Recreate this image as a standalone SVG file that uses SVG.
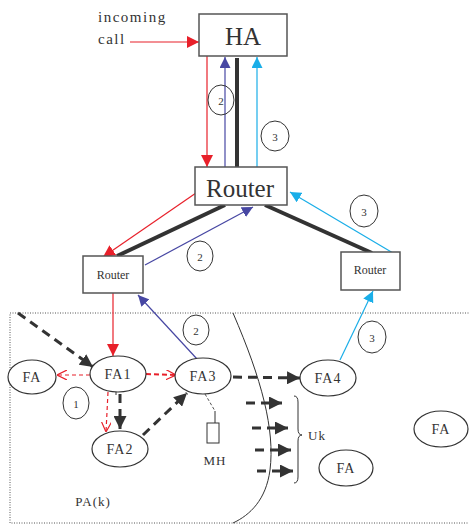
<svg xmlns="http://www.w3.org/2000/svg" width="469" height="524" viewBox="0 0 469 524">
<defs>
<marker id="mRed" viewBox="0 0 10 10" refX="10" refY="5" markerWidth="10" markerHeight="10" markerUnits="userSpaceOnUse" orient="auto"><path d="M0,0 L10,5 L0,10 z" fill="#e8202a"/></marker>
<marker id="mRedBig" viewBox="0 0 10 10" refX="10" refY="5" markerWidth="12" markerHeight="12" markerUnits="userSpaceOnUse" orient="auto"><path d="M0,0 L10,5 L0,10 z" fill="#e8202a"/></marker>
<marker id="mBlue" viewBox="0 0 10 10" refX="10" refY="5" markerWidth="11" markerHeight="11" markerUnits="userSpaceOnUse" orient="auto"><path d="M0,0 L10,5 L0,10 z" fill="#4747a3"/></marker>
<marker id="mCyan" viewBox="0 0 10 10" refX="10" refY="5" markerWidth="11" markerHeight="11" markerUnits="userSpaceOnUse" orient="auto"><path d="M0,0 L10,5 L0,10 z" fill="#1aaee8"/></marker>
<marker id="mBlack" viewBox="0 0 10 10" refX="10" refY="5" markerWidth="13" markerHeight="13" markerUnits="userSpaceOnUse" orient="auto"><path d="M0,0 L10,5 L0,10 z" fill="#333"/></marker>
<marker id="mOpen" viewBox="0 0 10 10" refX="10" refY="5" markerWidth="10" markerHeight="10" markerUnits="userSpaceOnUse" orient="auto"><path d="M0,0 L10,5 L0,10" fill="none" stroke="#e8202a" stroke-width="1.2"/></marker>
</defs>
<style>
text{font-family:"Liberation Serif","Times New Roman",serif;fill:#333}
.box{fill:#fff;stroke:#555;stroke-width:1.5}
.ell{fill:#fff;stroke:#333;stroke-width:1.2}
.num{fill:none;stroke:#333;stroke-width:1}
.lbl{font-size:14px;text-anchor:middle;letter-spacing:1px}
.n{font-size:11px;text-anchor:middle}
.red{stroke:#e8202a;stroke-width:1.2;fill:none}
.blue{stroke:#4747a3;stroke-width:1.2;fill:none}
.cyan{stroke:#1aaee8;stroke-width:1.2;fill:none}
.thick{stroke:#333;stroke-width:4;fill:none}
.bdash{stroke:#333;stroke-width:3;stroke-dasharray:9,6;fill:none}
.rdash{stroke:#e8202a;stroke-width:1.2;stroke-dasharray:4,3;fill:none}
</style>
<rect x="10" y="313" width="470" height="210" fill="none" stroke="#555" stroke-width="1" stroke-dasharray="1,1.5"/>
<path d="M233,313 C262,380 275,430 270,470 C266,500 250,515 233,523" fill="none" stroke="#333" stroke-width="1"/>
<g id="connectors">
<line x1="130" y1="42" x2="199" y2="42" class="red" marker-end="url(#mRedBig)"/>
<line x1="207" y1="56" x2="207" y2="167" class="red" marker-end="url(#mRedBig)"/>
<line x1="225" y1="167" x2="225" y2="57" class="blue" marker-end="url(#mBlue)"/>
<line x1="237" y1="58" x2="237" y2="167" class="thick"/>
<line x1="257" y1="167" x2="257" y2="57" class="cyan" marker-end="url(#mCyan)"/>
<line x1="196" y1="193" x2="103" y2="257" class="red" marker-end="url(#mRedBig)"/>
<line x1="225" y1="205" x2="117" y2="256" class="thick"/>
<line x1="145" y1="265" x2="253" y2="207" class="blue" marker-end="url(#mBlue)"/>
<line x1="265" y1="205" x2="372" y2="253" class="thick"/>
<line x1="393" y1="253" x2="290" y2="192" class="cyan" marker-end="url(#mCyan)"/>
<line x1="113" y1="293" x2="113" y2="356" class="red" marker-end="url(#mRedBig)"/>
<line x1="197" y1="359" x2="138" y2="295" class="blue" marker-end="url(#mBlue)"/>
<line x1="340" y1="360" x2="373" y2="291" class="cyan" marker-end="url(#mCyan)"/>
<line x1="18" y1="313" x2="93" y2="367" class="bdash" marker-end="url(#mBlack)"/>
<line x1="90" y1="375" x2="57" y2="375" class="rdash" marker-end="url(#mOpen)"/>
<line x1="146" y1="374" x2="176" y2="375" class="rdash" style="stroke-width:2;stroke-dasharray:5,3" marker-end="url(#mOpen)"/>
<line x1="108" y1="392" x2="106" y2="432" class="rdash" marker-end="url(#mOpen)"/>
<line x1="116" y1="389" x2="116" y2="395" stroke="#333" stroke-width="1"/>
<line x1="120" y1="394" x2="120" y2="429" class="bdash" marker-end="url(#mBlack)"/>
<line x1="143" y1="435" x2="187" y2="393" class="bdash" marker-end="url(#mBlack)"/>
<line x1="233" y1="377" x2="300" y2="378" class="bdash" marker-end="url(#mBlack)"/>
<line x1="246" y1="403" x2="282" y2="403" class="bdash" marker-end="url(#mBlack)"/>
<line x1="252" y1="428" x2="288" y2="428" class="bdash" marker-end="url(#mBlack)"/>
<line x1="255" y1="450" x2="291" y2="450" class="bdash" marker-end="url(#mBlack)"/>
<line x1="257" y1="471" x2="293" y2="471" class="bdash" marker-end="url(#mBlack)"/>
<path d="M205,394 L215,411 " fill="none" stroke="#555" stroke-width="1" stroke-dasharray="3,2"/>
<line x1="215" y1="411" x2="215" y2="423" stroke="#333" stroke-width="1"/>
</g>
<text x="98" y="22" style="font-size:15px;letter-spacing:1.5px">incoming</text>
<text x="98" y="44" style="font-size:15px;letter-spacing:1.5px">call</text>
<g id="HA"><rect x="199" y="14" width="88" height="42" class="box"/><text x="243" y="45" style="font-size:25px;text-anchor:middle">HA</text></g>
<g id="RouterMain"><rect x="195" y="167" width="92" height="38" class="box"/><text x="240" y="197" style="font-size:25px;text-anchor:middle">Router</text></g>
<g id="RouterLeft"><rect x="83" y="256" width="60" height="37" class="box"/><text x="113" y="279" style="font-size:12px;text-anchor:middle">Router</text></g>
<g id="RouterRight"><rect x="341" y="252" width="59" height="38" class="box"/><text x="370" y="274" style="font-size:12px;text-anchor:middle">Router</text></g>
<g id="c2a"><ellipse cx="221" cy="100" rx="13" ry="15" class="num"/><text x="221" y="105" class="n">2</text></g>
<g id="c3a"><ellipse cx="275" cy="136" rx="14" ry="15" class="num"/><text x="275" y="141" class="n">3</text></g>
<g id="c2b"><ellipse cx="200" cy="256" rx="13" ry="15" class="num"/><text x="200" y="261" class="n">2</text></g>
<g id="c3b"><ellipse cx="364" cy="211" rx="14" ry="16" class="num"/><text x="364" y="216" class="n">3</text></g>
<g id="c2c"><ellipse cx="196" cy="330" rx="13" ry="15" class="num"/><text x="196" y="335" class="n">2</text></g>
<g id="c3c"><ellipse cx="372" cy="337" rx="14" ry="16" class="num"/><text x="372" y="342" class="n">3</text></g>
<g id="c1"><ellipse cx="76" cy="403" rx="13" ry="16" class="num"/><text x="76" y="408" class="n">1</text></g>
<g id="FA0"><ellipse cx="32" cy="377" rx="24" ry="17" class="ell"/><text x="32" y="382" class="lbl">FA</text></g>
<g id="FA1"><ellipse cx="118" cy="374" rx="28" ry="18" class="ell"/><text x="118" y="379" class="lbl">FA1</text></g>
<g id="FA3"><ellipse cx="203" cy="376" rx="28" ry="18" class="ell"/><text x="203" y="381" class="lbl">FA3</text></g>
<g id="FA2"><ellipse cx="120" cy="449" rx="28" ry="18" class="ell"/><text x="120" y="454" class="lbl">FA2</text></g>
<g id="FA4"><ellipse cx="328" cy="378" rx="28" ry="18" class="ell"/><text x="328" y="383" class="lbl">FA4</text></g>
<g id="FAr"><ellipse cx="441" cy="429" rx="27" ry="18" class="ell"/><text x="441" y="434" class="lbl">FA</text></g>
<g id="FAm"><ellipse cx="346" cy="468" rx="27" ry="18" class="ell"/><text x="346" y="473" class="lbl">FA</text></g>
<g id="MH"><rect x="207" y="423" width="12" height="20" fill="#fff" stroke="#333" stroke-width="1"/><text x="215" y="465" class="lbl" style="font-size:13px">MH</text></g>
<g id="Uk"><path d="M294,396 Q298,396 298,402 L298,429 Q298,435 302,435 Q298,435 298,441 L298,477 Q298,483 294,483" fill="none" stroke="#333" stroke-width="1"/><text x="308" y="440" style="font-size:13px;letter-spacing:1px">Uk</text></g>
<text x="93" y="506" class="lbl" style="font-size:13px">PA(k)</text>
</svg>
